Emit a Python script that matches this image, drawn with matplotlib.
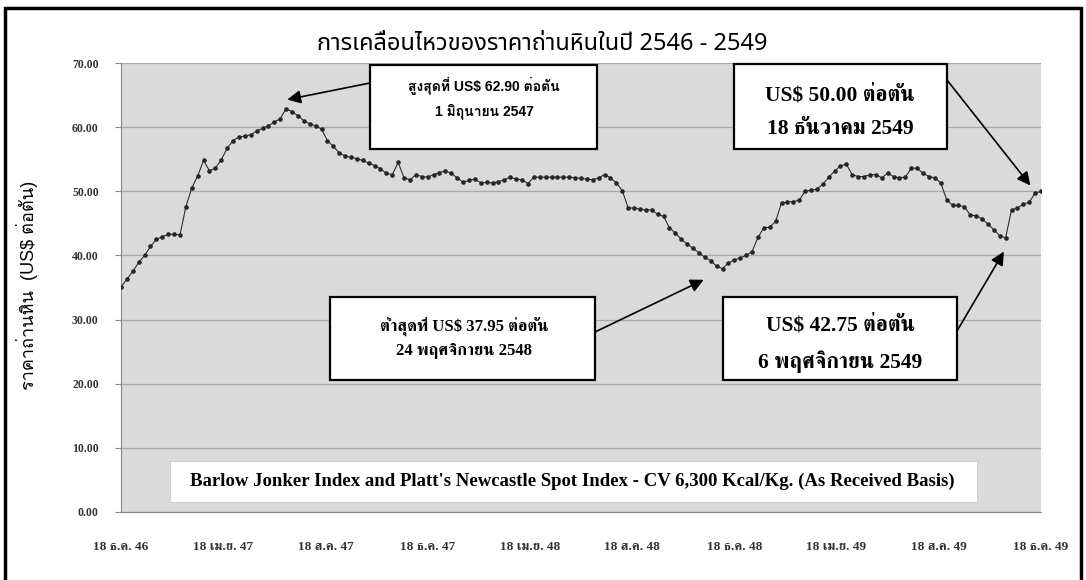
import numpy as np
import matplotlib
matplotlib.use('Agg')
import matplotlib.pyplot as plt
from matplotlib import font_manager as fm
from matplotlib.ft2font import FT2Font
from matplotlib.patches import Rectangle

# weekly coal price, US$ per ton (18 Dec 2003 - 18 Dec 2006)
prices = [35.1, 36.3, 37.5, 38.9, 40.0, 41.4, 42.5, 42.9, 43.3, 43.3,
          43.2, 47.6, 50.5, 52.4, 54.8, 53.2, 53.6, 54.9, 56.7, 57.9,
          58.5, 58.6, 58.8, 59.4, 59.8, 60.2, 60.8, 61.3, 62.9, 62.4,
          61.8, 61.0, 60.5, 60.2, 59.7, 57.9, 57.0, 56.0, 55.5, 55.3,
          55.1, 54.8, 54.4, 54.0, 53.5, 52.8, 52.6, 54.5, 52.1, 51.8,
          52.6, 52.3, 52.2, 52.6, 52.9, 53.2, 52.8, 52.1, 51.4, 51.7,
          51.9, 51.3, 51.4, 51.3, 51.5, 51.8, 52.2, 51.9, 51.8, 51.2,
          52.2, 52.2, 52.2, 52.2, 52.2, 52.2, 52.2, 52.1, 52.0, 51.9,
          51.8, 52.1, 52.6, 52.1, 51.3, 50.1, 47.4, 47.4, 47.2, 47.1,
          47.1, 46.4, 46.1, 44.3, 43.5, 42.5, 41.8, 41.1, 40.4, 39.7,
          39.2, 38.3, 37.95, 38.8, 39.3, 39.6, 40.0, 40.6, 42.8, 44.3,
          44.4, 45.3, 48.2, 48.3, 48.4, 48.6, 50.0, 50.2, 50.3, 51.1,
          52.2, 53.1, 54.0, 54.2, 52.6, 52.3, 52.3, 52.6, 52.6, 52.1,
          52.8, 52.3, 52.1, 52.2, 53.6, 53.6, 52.8, 52.3, 52.1, 51.3,
          48.7, 47.8, 47.8, 47.6, 46.3, 46.2, 45.7, 44.9, 44.0, 43.1,
          42.75, 47.1, 47.4, 48.0, 48.3, 49.7, 50.0]

x_labels = ['18 ธ.ค. 46', '18 เม.ย. 47', '18 ส.ค. 47', '18 ธ.ค. 47',
            '18 เม.ย. 48', '18 ส.ค. 48', '18 ธ.ค. 48', '18 เม.ย. 49',
            '18 ส.ค. 49', '18 ธ.ค. 49']
y_ticks = [0, 10, 20, 30, 40, 50, 60, 70]

title = 'การเคลื่อนไหวของราคาถ่านหินในปี 2546 - 2549'
y_title = 'ราคาถ่านหิน  (US$ ต่อตัน)'
source = "Barlow Jonker Index and Platt's Newcastle Spot Index - CV 6,300 Kcal/Kg. (As Received Basis)"

note_text = ['สูงสุดที่ US$ 62.90 ต่อตัน\n1 มิถุนายน 2547',
             'ต่ำสุดที่ US$ 37.95 ต่อตัน\n24 พฤศจิกายน 2548',
             'US$ 50.00 ต่อตัน\n18 ธันวาคม 2549',
             'US$ 42.75 ต่อตัน\n6 พฤศจิกายน 2549']


# fonts that can draw Thai
thai_fonts = set()
for path in fm.findSystemFonts():
    try:
        if FT2Font(path).get_char_index(0x0E01):
            fm.fontManager.addfont(path)
            thai_fonts.add(fm.FontProperties(fname=path).get_name())
    except Exception:
        pass


def pick(names):
    return [n for n in names if n in thai_fonts]


serif_fam = ['Liberation Serif'] + pick(['Norasi', 'FreeSerif', 'Kinnari',
                                         'Noto Serif Thai']) + ['DejaVu Sans']
sans_fam = ['Liberation Sans'] + pick(['Loma', 'Garuda', 'Noto Sans Thai',
                                       'FreeSans']) + ['DejaVu Sans']
title_fam = ['Liberation Sans Narrow'] + pick(['Noto Sans Thai', 'Loma',
                                               'Garuda']) + ['DejaVu Sans']

W, H = 1086, 580


def px(x, y):
    return x / W, 1 - y / H


fig = plt.figure(figsize=(W / 100, H / 100), dpi=100)
fig.patch.set_facecolor('white')
ax = fig.add_axes([121 / W, 1 - 512 / H, (1041 - 121) / W, (512 - 63) / H])
ax.set_facecolor('#dadada')

weeks = np.arange(len(prices))
ax.plot(weeks, prices, color='#262626', lw=0.75, marker='o', ms=2.3, zorder=3)

ax.set_ylim(0, 70)
ax.set_xlim(0, len(prices) - 1)
ax.set_yticks(y_ticks)
ax.set_yticklabels(['%.2f' % v for v in y_ticks], family=serif_fam,
                   fontweight='bold', fontsize=8.5, color='#333333')
ax.set_xticks(np.linspace(0, len(prices) - 1, len(x_labels)))
ax.set_xticklabels(x_labels, family=serif_fam, fontweight='bold',
                   fontsize=9.5, color='#333333')
ax.tick_params(axis='x', length=0, pad=21)
ax.tick_params(axis='y', length=4, color='#888888', pad=12)
ax.grid(axis='y', color='#a8a8a8', lw=0.9)
ax.set_axisbelow(True)
for s in ['top', 'right']:
    ax.spines[s].set_visible(False)
ax.spines['left'].set_color('#888888')
ax.spines['bottom'].set_color('#888888')

fig.text(*px(542, 44), title, family=title_fam, fontsize=17,
         fontweight='medium', ha='center', va='center')
fig.text(*px(27, 285), y_title, family=sans_fam, fontsize=13,
         rotation=90, ha='center', va='center')

# source box
fig.patches.append(Rectangle(px(170, 502), (977 - 170) / W, 41 / H,
                             transform=fig.transFigure, facecolor='white',
                             edgecolor='#d0d0d0', lw=0.8, zorder=5))
fig.text(*px(572, 481), source, family=serif_fam, fontweight='bold',
         fontsize=13.5, ha='center', va='center', zorder=6)

# note boxes (left, top, right, bottom) in pixels, text centre, size
boxes = [(370, 65, 597, 149), (330, 297, 595, 380),
         (734, 64, 947, 149), (723, 297, 957, 380)]
text_pos = [(484, 98), (464, 338), (840, 112), (840, 344)]
text_size = [10, 12, 15.5, 15.5]
text_space = [1.7, 1.6, 1.95, 1.8]
text_fam = [sans_fam, serif_fam, serif_fam, serif_fam]
tails = [(370, 83), (595, 332), (947, 80), (957, 331)]
tips = [(28.2, 64.3), (98.8, 36.2), (154.2, 50.9), (149.7, 40.6)]

for i in range(4):
    l, t, r, b = boxes[i]
    fig.patches.append(Rectangle(px(l, b), (r - l) / W, (b - t) / H,
                                 transform=fig.transFigure, facecolor='white',
                                 edgecolor='black', lw=1.6, zorder=5))
    fig.text(*px(*text_pos[i]), note_text[i], family=text_fam[i],
             fontweight='bold', fontsize=text_size[i], ha='center',
             va='center', linespacing=text_space[i], zorder=6)
    ax.annotate('', xy=tips[i], xycoords='data',
                xytext=(tails[i][0], H - tails[i][1]),
                textcoords='figure pixels',
                arrowprops=dict(arrowstyle='-|>', color='black', lw=1.2,
                                mutation_scale=20, shrinkA=0, shrinkB=0),
                zorder=7, annotation_clip=False)

# outer frame
fig.patches.append(Rectangle(px(5, 590), (1081 - 5) / W, (590 - 8) / H,
                             transform=fig.transFigure, fill=False,
                             edgecolor='black', lw=2.5, zorder=10))

fig.savefig('out.png', dpi=100)
